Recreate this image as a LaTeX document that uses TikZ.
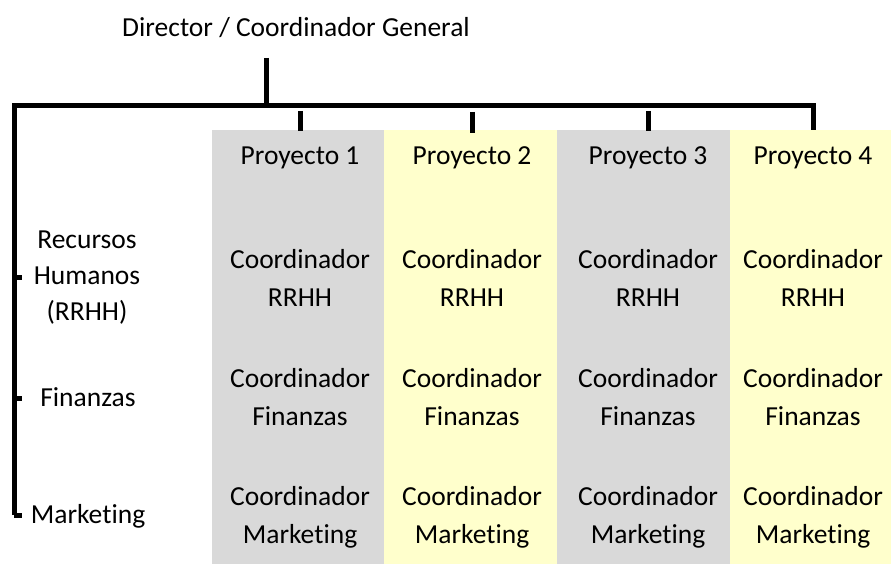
\documentclass[tikz,border=0pt]{standalone}
\usepackage{fontspec}
\setmainfont{Carlito}[Ligatures=NoCommon]
\definecolor{colgray}{HTML}{D9D9D9}
\definecolor{colyellow}{HTML}{FFFFCC}
\tikzset{
  x=1pt, y=-1pt,
  line/.style={line width=5pt, black},
  txt/.style={font=\fontsize{27.5}{38}\selectfont, align=center, inner sep=0pt, text=black},
  lbl/.style={txt, font=\fontsize{27.5}{36}\selectfont},
}
\begin{document}
\begin{tikzpicture}
\useasboundingbox (0,0) rectangle (891,564);
% column backgrounds
\fill[colgray]   (212,130) rectangle (384,564);
\fill[colyellow] (384,130) rectangle (557,564);
\fill[colgray]   (557,130) rectangle (730,564);
\fill[colyellow] (730,130) rectangle (891,564);

% title
\node[txt] (dir) at (296,28) {Director / Coordinador General};

% coordinates of connector structure
\coordinate (dtop) at (266,58);
\coordinate (dbar) at (266,105.5);
\coordinate (barL) at (14,105.5);
\coordinate (barR) at (813,105.5);
\coordinate (p4t) at (813,130);
\coordinate (leftR) at (14,277);
\coordinate (leftF) at (14,398);
\coordinate (leftB) at (14,515);
\coordinate (tickR) at (22,277);
\coordinate (tickF) at (22,398);
\coordinate (tickM) at (22,515);

\draw[line] (dtop) -- (dbar);
\draw[line] (leftB) -- (barL) -- (barR) -- (p4t);
\draw[line] (leftB) -- (tickM);
\draw[line] (leftR) -- (tickR);
\draw[line] (leftF) -- (tickF);

% project heads
\node[txt] (p1) at (300,158) {Proyecto 1};
\node[txt] (p2) at (472,158) {Proyecto 2};
\node[txt] (p3) at (648,158) {Proyecto 3};
\node[txt] (p4) at (813,158) {Proyecto 4};

\coordinate (t1) at (300,111);
\coordinate (t2) at (472,112);
\coordinate (t3) at (648,111);
\draw[line] (t1) -- (300,131);
\draw[line] (t2) -- (472,133);
\draw[line] (t3) -- (648,131);

% row labels
\node[lbl] (lr) at (87,278) {Recursos\\Humanos\\(RRHH)};
\node[lbl] (lf) at (88,397) {Finanzas};
\node[lbl] (lm) at (88,516) {Marketing};

% cells
\foreach \x/\n in {300/1,472/2,648/3,813/4}{
  \node[txt] (r\n) at (\x,278) {Coordinador\\RRHH};
  \node[txt] (f\n) at (\x,397) {Coordinador\\Finanzas};
  \node[txt] (m\n) at (\x,517) {Coordinador\\Marketing};
}
\end{tikzpicture}
\end{document}
